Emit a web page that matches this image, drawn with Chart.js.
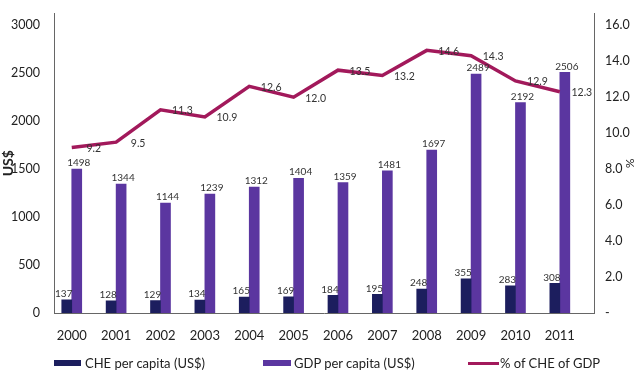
<!DOCTYPE html>
<html>
<head>
<meta charset="utf-8">
<script src="https://cdn.jsdelivr.net/npm/chart.js@4.4.1/dist/chart.umd.min.js"></script>
<style>
  html, body { margin: 0; padding: 0; background: #fff; }
  #wrap { position: relative; width: 639px; height: 377px; font-family: Lato, "Open Sans", sans-serif; }
  #c { position: absolute; left: 0; top: 0; }
  .lg { position: absolute; font-size: 13px; color: #222; line-height: 16px; white-space: nowrap; }
  .sw { position: absolute; }
</style>
</head>
<body>
<div id="wrap">
  <canvas id="c" width="639" height="377"></canvas>
  <div class="sw" style="left:54px;top:360px;width:27px;height:6px;background:#1c1e5e"></div>
  <div class="lg" style="left:85px;top:355px">CHE per capita (US$)</div>
  <div class="sw" style="left:263px;top:360px;width:28px;height:6px;background:#5b36a0"></div>
  <div class="lg" style="left:294px;top:355px">GDP per capita (US$)</div>
  <div class="sw" style="left:468px;top:362px;width:31px;height:3px;background:#a2195b"></div>
  <div class="lg" style="left:500px;top:355px">% of CHE of GDP</div>
</div>
<script>
const years = [2000, 2001, 2002, 2003, 2004, 2005, 2006, 2007, 2008, 2009, 2010, 2011];
const chePerCapita = [137, 128, 129, 134, 165, 169, 184, 195, 248, 355, 283, 308];
const gdpPerCapita = [1498, 1344, 1144, 1239, 1312, 1404, 1359, 1481, 1697, 2489, 2192, 2506];
const chePctGdp = [9.2, 9.5, 11.3, 10.9, 12.6, 12.0, 13.5, 13.2, 14.6, 14.3, 12.9, 12.3];
const leftTicks = [0, 500, 1000, 1500, 2000, 2500, 3000];
const rightTicks = [0, 2, 4, 6, 8, 10, 12, 14, 16];

const valueLabels = {
  id: 'valueLabels',
  afterDatasetsDraw(chart) {
    const ctx = chart.ctx;
    ctx.save();
    ctx.fillStyle = '#333';
    chart.data.datasets.forEach((ds, i) => {
      const meta = chart.getDatasetMeta(i);
      meta.data.forEach((el, j) => {
        const v = ds.data[j];
        if (ds.type === 'line') {
          ctx.font = '10.5px Lato, sans-serif';
          ctx.textAlign = 'center';
          ctx.textBaseline = 'middle';
          ctx.fillText(v.toFixed(1), el.x + 22, el.y + 1);
        } else {
          ctx.font = '10px Lato, sans-serif';
          ctx.textAlign = 'center';
          ctx.textBaseline = 'bottom';
          ctx.fillText(String(v), el.x + (i === 1 ? 2 : -3), el.y - 1);
        }
      });
    });
    ctx.restore();
  }
};

new Chart(document.getElementById('c'), {
  data: {
    labels: years,
    datasets: [
      { type: 'bar', label: 'CHE per capita (US$)', data: chePerCapita, backgroundColor: '#1c1e5e', yAxisID: 'y', order: 1, barThickness: 10 },
      { type: 'bar', label: 'GDP per capita (US$)', data: gdpPerCapita, backgroundColor: '#5b36a0', yAxisID: 'y', order: 1, barThickness: 10 },
      { type: 'line', label: '% of CHE of GDP', data: chePctGdp, borderColor: '#a2195b', borderWidth: 3.5, pointRadius: 0, tension: 0, yAxisID: 'y1', order: 0 }
    ]
  },
  options: {
    responsive: false,
    animation: false,
    layout: { padding: { top: 5, bottom: 35, left: 0, right: 0 } },
    plugins: { legend: { display: false }, tooltip: { enabled: false } },
    scales: {
      x: {
        type: 'linear',
        offset: false,
        min: 1999.6,
        max: 2011.77,
        afterBuildTicks: s => { s.ticks = years.map(v => ({ value: v })); },
        afterFit: s => { s.height = 29; },
        grid: { display: false, offset: false },
        border: { display: true, color: '#666', width: 1 },
        ticks: { callback: v => String(v), color: '#222', font: { family: 'Lato', size: 13 }, padding: 7, maxRotation: 0, autoSkip: false }
      },
      y: {
        position: 'left',
        min: 0,
        max: 3120,
        afterBuildTicks: s => { s.ticks = leftTicks.map(v => ({ value: v })); },
        afterFit: s => { s.width = 54; },
        grid: { display: false },
        border: { display: true, color: '#666', width: 1 },
        ticks: { callback: v => String(v), color: '#222', font: { family: 'Lato', size: 12.5 }, padding: 6 },
        title: { display: true, text: 'US$', color: '#222', font: { family: 'Lato', size: 14, weight: 'bold' }, padding: { top: 0, bottom: 0 } }
      },
      y1: {
        position: 'right',
        min: 0,
        max: 16.65,
        afterBuildTicks: s => { s.ticks = rightTicks.map(v => ({ value: v })); },
        afterFit: s => { s.width = 45; },
        grid: { display: false },
        border: { display: true, color: '#666', width: 1 },
        ticks: { callback: v => v === 0 ? '-' : v.toFixed(1), color: '#222', font: { family: 'Lato', size: 12.5 }, padding: 3 },
        title: { display: true, text: '%', color: '#222', font: { family: 'Lato', size: 12 }, padding: { top: 2, bottom: 0 } }
      }
    }
  },
  plugins: [valueLabels]
});
</script>
</body>
</html>
